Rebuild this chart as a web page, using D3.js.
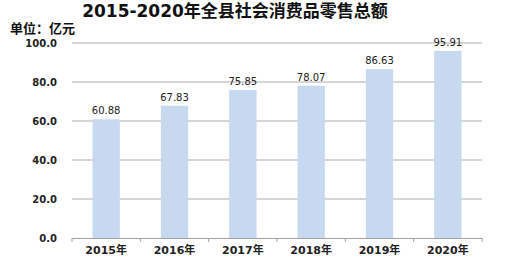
<!DOCTYPE html>
<html>
<head>
<meta charset="utf-8">
<script src="https://cdn.jsdelivr.net/npm/d3@7"></script>
<style>
  body { margin: 0; background: #fff; }
  text { font-family: "DejaVu Sans", "Noto Sans CJK SC", sans-serif; }
</style>
</head>
<body>
<div id="chart"></div>
<script>
// data
var years = ["2015年", "2016年", "2017年", "2018年", "2019年", "2020年"];
var sales = [60.88, 67.83, 75.85, 78.07, 86.63, 95.91];
var yTicks = [0, 20, 40, 60, 80, 100];

var width = 510;
var height = 260;
var margin = { top: 43, right: 28, bottom: 22, left: 72 };

var svg = d3.select("#chart")
    .append("svg")
    .attr("width", width)
    .attr("height", height);

var x = d3.scaleBand()
    .domain(years)
    .range([margin.left, width - margin.right])
    .paddingInner(0.6)
    .paddingOuter(0.3);

var y = d3.scaleLinear()
    .domain([0, 100])
    .range([height - margin.bottom, margin.top]);

// gridlines
svg.append("g")
    .selectAll("line")
    .data(yTicks.slice(1))
    .enter()
    .append("line")
    .attr("x1", margin.left)
    .attr("x2", width - margin.right)
    .attr("y1", function(d) { return y(d); })
    .attr("y2", function(d) { return y(d); })
    .attr("stroke", "#c8c8c8")
    .attr("stroke-width", 1.5);

// y labels
svg.append("g")
    .selectAll("text")
    .data(yTicks)
    .enter()
    .append("text")
    .attr("x", 57)
    .attr("y", function(d) { return y(d) + 4; })
    .attr("text-anchor", "end")
    .style("font-size", "10px")
    .style("font-weight", "bold")
    .style("fill", "#222")
    .text(function(d) { return d3.format(".1f")(d); });

// bars
svg.append("g")
    .selectAll("rect")
    .data(sales)
    .enter()
    .append("rect")
    .attr("x", function(d, i) { return x(years[i]); })
    .attr("y", function(d) { return y(d); })
    .attr("width", x.bandwidth())
    .attr("height", function(d) { return y(0) - y(d); })
    .attr("fill", "#c6d9f1");

// value labels
svg.append("g")
    .selectAll("text")
    .data(sales)
    .enter()
    .append("text")
    .attr("x", function(d, i) { return x(years[i]) + x.bandwidth() / 2; })
    .attr("y", function(d) { return y(d) - 5; })
    .attr("text-anchor", "middle")
    .style("font-size", "10px")
    .style("fill", "#222")
    .text(function(d) { return d3.format(".2f")(d); });

// x axis
var xAxis = d3.axisBottom(x).tickSize(0).tickPadding(8);
var gx = svg.append("g")
    .attr("transform", "translate(0," + y(0) + ")")
    .call(xAxis);
gx.select(".domain").attr("stroke", "#a0a0a0").attr("stroke-width", 1.2);
gx.selectAll("text")
    .style("font-size", "11px")
    .style("font-weight", "bold")
    .style("fill", "#222")
    .style("font-family", "'DejaVu Sans', 'Noto Sans CJK SC', sans-serif");

// category boundary ticks
var bounds = d3.range(years.length + 1).map(function(i) { return margin.left + i * (width - margin.left - margin.right) / years.length; });
gx.selectAll(".sep")
    .data(bounds)
    .enter()
    .append("line")
    .attr("class", "sep")
    .attr("x1", function(d) { return d; })
    .attr("x2", function(d) { return d; })
    .attr("y1", 0)
    .attr("y2", 4)
    .attr("stroke", "#a0a0a0");

// title
svg.append("text")
    .attr("x", 235)
    .attr("y", 17)
    .attr("text-anchor", "middle")
    .style("font-size", "17px")
    .style("font-weight", "bold")
    .style("fill", "#111")
    .text("2015-2020年全县社会消费品零售总额");

svg.append("text")
    .attr("x", 10)
    .attr("y", 33)
    .style("font-size", "13px")
    .style("font-weight", "bold")
    .style("fill", "#111")
    .text("单位：亿元");
</script>
</body>
</html>
